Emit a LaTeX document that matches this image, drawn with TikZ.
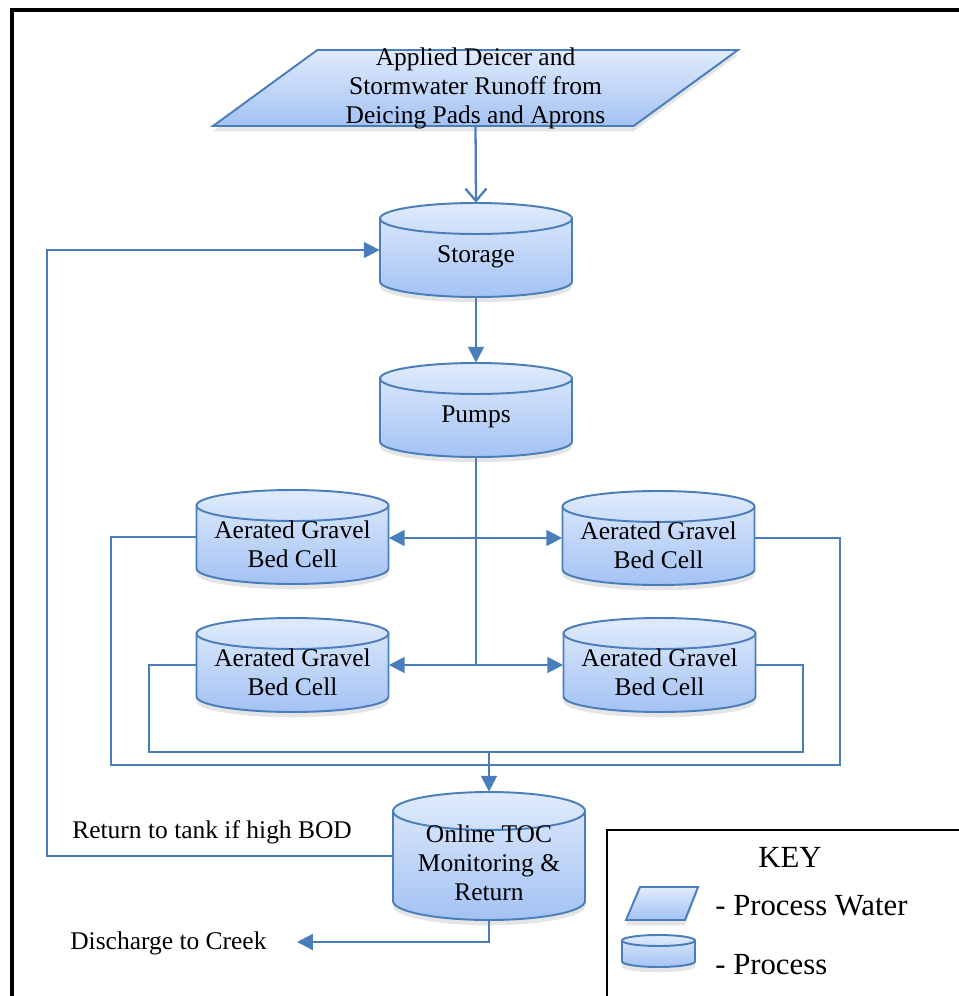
\documentclass[tikz,border=0pt]{standalone}
\usepackage{fontspec}
\setmainfont{Liberation Serif}
\usetikzlibrary{shapes.geometric,arrows.meta,shadows}
\definecolor{lineblue}{RGB}{74,126,187}
\definecolor{filltop}{RGB}{224,235,252}
\definecolor{fillbot}{RGB}{163,194,243}
\tikzset{
  tankbody/.style={draw=lineblue, line width=1.1pt, top color=filltop, bottom color=fillbot,
    drop shadow={shadow xshift=0pt, shadow yshift=-3pt, opacity=0.2}},
  tankline/.style={draw=lineblue, line width=1.1pt},
  tankbox/.style={rectangle, inner sep=0pt},
  tanklabel/.style={align=center, yshift=-4pt, font=\fontsize{14.5}{16.5}\selectfont},
  water/.style={trapezium, trapezium left angle=35.4, trapezium right angle=144.6,
    trapezium stretches body, draw=lineblue, line width=1.1pt,
    top color=filltop, bottom color=fillbot, align=center, inner xsep=1pt, inner ysep=-2pt,
    drop shadow={shadow xshift=0pt, shadow yshift=-3pt, opacity=0.2}},
  flow/.style={draw=lineblue, line width=1.3pt},
  flowto/.style={flow, -{Triangle[length=9pt,width=9pt]}},
  keytext/.style={anchor=west, inner sep=0pt, font=\fontsize{17.5}{20}\selectfont},
}
% name, centre x, centre y, x radius, height, y radius, text
\newcommand{\tank}[7]{%
  \filldraw[tankbody] (#2-#4,#3-#5/2+#6) -- (#2-#4,#3+#5/2-#6)
    arc[start angle=180, end angle=0, x radius=#4, y radius=#6]
    -- (#2+#4,#3-#5/2+#6)
    arc[start angle=0, end angle=-180, x radius=#4, y radius=#6] -- cycle;
  \draw[tankline] (#2-#4,#3-#5/2+#6)
    arc[start angle=180, end angle=0, x radius=#4, y radius=#6];
  \node[tankbox, minimum width=2*#4*0.02cm, minimum height=#5*0.02cm,
    label={[tanklabel]center:{#7}}] (#1) at (#2,#3) {};
}
\begin{document}
\begin{tikzpicture}[x=0.02cm,y=-0.02cm]
\useasboundingbox (0,0) rectangle (958,996);
\fill[white] (0,0) rectangle (958,996);
\draw[line width=2.8pt] (12,1010) -- (12,10) -- (975,10);

% inflow
\node[water, minimum width=10.5cm, minimum height=1.52cm,
  font=\fontsize{14.5}{16.5}\selectfont] (runoff) at (475.5,88)
  {Applied Deicer and\\Stormwater Runoff from\\Deicing Pads and Aprons};

% process units
\tank{storage}{476}{250}{96}{94}{15.5}{Storage}
\tank{pumps}{476}{410}{96}{94}{15.5}{Pumps}
\tank{cellTL}{292.5}{537}{96}{94}{15.5}{Aerated Gravel\\Bed Cell}
\tank{cellTR}{658.5}{538}{96}{94}{15.5}{Aerated Gravel\\Bed Cell}
\tank{cellBL}{292.5}{665}{96}{94}{15.5}{Aerated Gravel\\Bed Cell}
\tank{cellBR}{659.5}{665}{96}{94}{15.5}{Aerated Gravel\\Bed Cell}
\tank{toc}{489}{856}{96}{128}{19}{Online TOC\\Monitoring \&\\Return}

% labels
\node[anchor=west, inner sep=0pt, font=\fontsize{14.5}{16.5}\selectfont] (bodtext) at (72,832)
  {Return to tank if high BOD};
\node[anchor=west, inner sep=0pt, font=\fontsize{14.5}{16.5}\selectfont] (creektext) at (70,943)
  {Discharge to Creek};

\coordinate (split1) at (476,538);
\coordinate (split2) at (476,665);
\coordinate (merge) at (489,752);
\coordinate (creek) at (297,942);

% connectors
\draw[flow, -{Straight Barb[length=7pt,width=12pt]}] (runoff.south) -- (storage.north);
\draw[flowto] (storage.south) -- (pumps.north);
\draw[flow] (pumps.south) -- (split2);
\draw[flowto] (split1) -- (split1 -| cellTL.east);
\draw[flowto] (split1) -- (split1 -| cellTR.west);
\draw[flowto] (split2) -- (split2 -| cellBL.east);
\draw[flowto] (split2) -- (split2 -| cellBR.west);
\draw[flow] (cellTL.west) -| (111,765) -- (840,765) |- (cellTR.east);
\draw[flow] (cellBL.west) -| (149,752) -- (803,752) |- (cellBR.east);
\draw[flowto] (merge) -- (toc.north);
\draw[flowto] (toc.west) -| (47,250) -- (storage.west);
\draw[flowto] (toc.south) |- (creek);

% key
\draw[line width=1pt] (607,830) rectangle (1000,1020);
\node[font=\fontsize{17.5}{20}\selectfont] (keytitle) at (790,857) {KEY};
\filldraw[tankbody] (626,920) -- (640,887) -- (698,887) -- (685,920) -- cycle;
\tank{keytank}{658.5}{951}{36.5}{32}{5.5}{}
\node[keytext] (keywatertext) at (715,906) {- Process Water};
\node[keytext] (keytanktext) at (715,965) {- Process};
\end{tikzpicture}
\end{document}
